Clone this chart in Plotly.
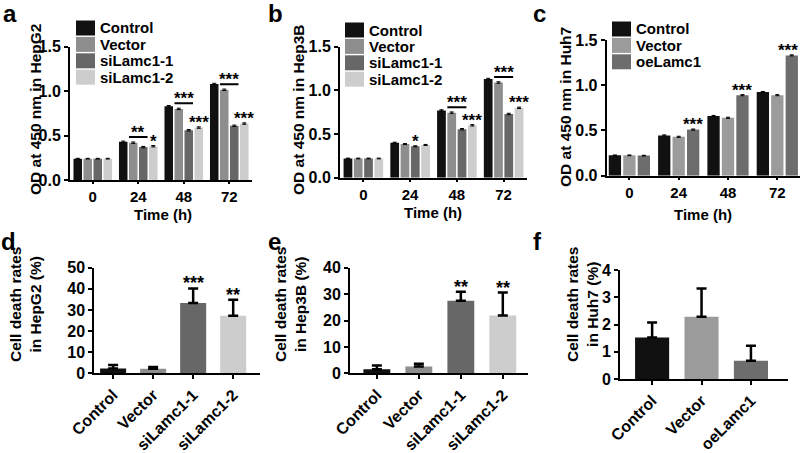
import plotly.graph_objects as go

W, H = 800, 453

time_points = ["0", "24", "48", "72"]
si_groups = ["Control", "Vector", "siLamc1-1", "siLamc1-2"]
oe_groups = ["Control", "Vector", "oeLamc1"]

si_colors = ["#111111", "#8e8e8e", "#676767", "#cdcdcd"]
oe_colors = ["#111111", "#9b9b9b", "#6d6d6d"]

# a - OD450, HepG2
hepg2_control = [0.24, 0.43, 0.83, 1.08]
hepg2_vector = [0.24, 0.42, 0.80, 1.015]
hepg2_si1 = [0.24, 0.37, 0.56, 0.61]
hepg2_si2 = [0.24, 0.38, 0.59, 0.635]
hepg2_sd = [0.004, 0.008, 0.008, 0.008]

# b - OD450, Hep3B
hep3b_control = [0.22, 0.40, 0.77, 1.13]
hep3b_vector = [0.22, 0.385, 0.745, 1.09]
hep3b_si1 = [0.22, 0.36, 0.555, 0.73]
hep3b_si2 = [0.22, 0.375, 0.60, 0.80]
hep3b_sd = [0.004, 0.006, 0.008, 0.008]

# c - OD450, Huh7
huh7_control = [0.225, 0.445, 0.66, 0.925]
huh7_vector = [0.225, 0.43, 0.64, 0.89]
huh7_oe = [0.222, 0.51, 0.89, 1.33]
huh7_sd = [0.004, 0.006, 0.006, 0.006]

# d, e, f - cell death rates (%)
hepg2_death = [2.3, 2.2, 33.3, 27.3]
hepg2_death_sd = [1.6, 0.8, 6.9, 7.5]
hep3b_death = [1.5, 2.6, 27.5, 21.9]
hep3b_death_sd = [1.5, 1.0, 3.4, 8.7]
huh7_death = [1.52, 2.28, 0.67]
huh7_death_sd = [0.55, 1.04, 0.55]

# significance marks
a_brackets = [(1, "**"), (2, "***"), (3, "***")]          # Vector vs siLamc1-1
a_stars = [(1, 3, "*"), (2, 3, "***"), (3, 3, "***")]      # (time, series, text)
b_brackets = [(2, "***"), (3, "***")]
b_stars = [(1, 2, "*"), (2, 3, "***"), (3, 3, "***")]
c_stars = [(1, 2, "***"), (2, 2, "***"), (3, 2, "***")]
d_stars = [(2, "***"), (3, "**")]
e_stars = [(2, "**"), (3, "**")]

BARGAP, GROUPGAP = 0.12, 0.15
FONT = "Liberation Sans, Arial, sans-serif"

fig = go.Figure()


def ref(i):
    return ("x", "y") if i == 1 else (f"x{i}", f"y{i}")


def slot_offsets(n):
    slot = (1 - BARGAP) / n
    return [(k - (n - 1) / 2) * slot for k in range(n)], slot * (1 - GROUPGAP)


def add_od_panel(i, series, colors, sd):
    xr, yr = ref(i)
    names = si_groups if len(series) == 4 else oe_groups
    for name, vals, col in zip(names, series, colors):
        fig.add_trace(go.Bar(
            x=time_points, y=vals, name=name, marker=dict(color=col, line_width=0),
            error_y=dict(type="data", array=sd, color="black", thickness=1, width=2),
            xaxis=xr, yaxis=yr, showlegend=False,
        ))


def add_death_panel(i, groups, vals, sd, colors, bw):
    xr, yr = ref(i)
    fig.add_trace(go.Bar(
        x=groups, y=vals, width=bw, marker=dict(color=colors[:len(groups)], line_width=0),
        error_y=dict(type="data", symmetric=False, array=sd, arrayminus=[0] * len(vals),
                     color="black", thickness=2.5, width=5),
        xaxis=xr, yaxis=yr, showlegend=False,
    ))


def star(i, x, y, text, size=17, xshift=0):
    xr, yr = ref(i)
    fig.add_annotation(xref=xr, yref=yr, x=x, y=y, text=text, showarrow=False,
                       yanchor="bottom", yshift=-7, xshift=xshift,
                       font=dict(size=size, color="black", weight="bold"))


def bracket(i, g, y, text):
    xr, yr = ref(i)
    offs, bw = slot_offsets(4)
    fig.add_shape(type="line", xref=xr, yref=yr, x0=g + offs[1] - bw / 2, x1=g + offs[2] + bw / 2,
                  y0=y, y1=y, line=dict(color="black", width=2))
    star(i, g, y, text)


def legend_box(x0, y0, names, colors):
    for k, (n, c) in enumerate(zip(names, colors)):
        yc = y0 + k * 16.4
        fig.add_shape(type="rect", xref="paper", yref="paper",
                      x0=x0 / W, x1=(x0 + 19) / W, y0=1 - (yc + 7.5) / H, y1=1 - (yc - 7.5) / H,
                      fillcolor=c, line_width=0)
        fig.add_annotation(xref="paper", yref="paper", x=(x0 + 22) / W, y=1 - yc / H, text=n,
                           xanchor="left", yanchor="middle", showarrow=False,
                           font=dict(size=15, color="black", weight="bold"))


def label(text, x, y, size, angle=0):
    fig.add_annotation(xref="paper", yref="paper", x=x / W, y=1 - y / H, text=text,
                       textangle=angle, showarrow=False, xanchor="center", yanchor="middle",
                       font=dict(size=size, color="black", weight="bold"))


# top row
a_series = [hepg2_control, hepg2_vector, hepg2_si1, hepg2_si2]
b_series = [hep3b_control, hep3b_vector, hep3b_si1, hep3b_si2]
c_series = [huh7_control, huh7_vector, huh7_oe]
add_od_panel(1, a_series, si_colors, hepg2_sd)
add_od_panel(2, b_series, si_colors, hep3b_sd)
add_od_panel(3, c_series, oe_colors, huh7_sd)

for panel, series, sd, brs, sts in [(1, a_series, hepg2_sd, a_brackets, a_stars),
                                    (2, b_series, hep3b_sd, b_brackets, b_stars),
                                    (3, c_series, huh7_sd, [], c_stars)]:
    offs, _ = slot_offsets(len(series))
    for g, text in brs:
        bracket(panel, g, series[1][g] + sd[g] + 0.055, text)
    for g, s, text in sts:
        # last mark of panel c sits against the right page edge
        shift = -4 if (panel == 3 and g == len(time_points) - 1) else 0
        star(panel, g + offs[s], series[s][g] + sd[g], text, xshift=shift)

# bottom row
add_death_panel(4, si_groups, hepg2_death, hepg2_death_sd, si_colors, 0.65)
add_death_panel(5, si_groups, hep3b_death, hep3b_death_sd, si_colors, 0.64)
add_death_panel(6, oe_groups, huh7_death, huh7_death_sd, oe_colors, 0.69)
for g, text in d_stars:
    star(4, g, hepg2_death[g] + hepg2_death_sd[g], text, 18)
for g, text in e_stars:
    star(5, g, hep3b_death[g] + hep3b_death_sd[g], text, 18)

legend_box(76, 28, si_groups, si_colors)
legend_box(345, 30, si_groups, si_colors)
legend_box(612, 29, oe_groups, oe_colors)

# panel letters
for letter, x, y in [("a", 2, 13.5), ("b", 267, 13.5), ("c", 532, 13.5),
                     ("d", 0, 241), ("e", 267, 241), ("f", 532, 241)]:
    fig.add_annotation(xref="paper", yref="paper", x=x / W, y=1 - y / H, text=letter,
                       xanchor="left", yanchor="middle", showarrow=False, borderpad=0,
                       font=dict(size=24, color="black", weight="bold"))

# axis titles
label("OD at 450 nm in HepG2", 35, 110, 15.5, -90)
label("OD at 450 nm in Hep3B", 298, 110, 15.5, -90)
label("OD at 450 nm in Huh7", 565, 107, 15.5, -90)
label("Time (h)", 163, 214, 15)
label("Time (h)", 433, 213, 15)
label("Time (h)", 703, 214, 15)
label("Cell death rates<br>in HepG2 (%)", 25, 305, 15.5, -90)
label("Cell death rates<br>in Hep3B (%)", 290, 305, 15.5, -90)
label("Cell death rates<br>in Huh7 (%)", 582, 305, 15.5, -90)

tick_font = dict(size=16, color="black", weight="bold", family=FONT)
axis_common = dict(showline=True, linecolor="black", linewidth=2, showgrid=False, zeroline=False,
                   ticks="outside", ticklen=4, tickwidth=2, tickcolor="black", tickfont=tick_font,
                   automargin=False)


def px_dom(a, b):
    return [a / W, b / W]


def py_dom(top, bottom):
    return [1 - bottom / H, 1 - top / H]


def x_axis(dom, rng, anchor, angle=0, top=False):
    d = dict(axis_common, domain=dom, range=rng, type="category", anchor=anchor, tickangle=angle)
    if top:
        d.update(ticklen=2, tickfont=dict(tick_font, size=15))
    return d


def y_axis(dom, rng, tickvals, anchor, fmt=None):
    d = dict(axis_common, domain=dom, range=rng, tickvals=tickvals, anchor=anchor)
    if fmt:
        d["tickformat"] = fmt
    return d


od_ticks = [0, 0.5, 1.0, 1.5]
fig.update_layout(
    width=W, height=H,
    margin=dict(l=0, r=0, t=0, b=0, autoexpand=False),
    paper_bgcolor="white", plot_bgcolor="white",
    font=dict(family=FONT, color="black", size=15, weight="bold"),
    barmode="group", bargap=BARGAP, bargroupgap=GROUPGAP,
    showlegend=False,
    xaxis=x_axis(px_dom(70, 252), [-0.5, 3.5], "y", top=True),
    yaxis=y_axis(py_dom(46.7, 180), [0, 1.5], od_ticks, "x", ".1f"),
    xaxis2=x_axis(px_dom(340, 527), [-0.5, 3.5], "y2", top=True),
    yaxis2=y_axis(py_dom(46.7, 177.7), [0, 1.5], od_ticks, "x2", ".1f"),
    xaxis3=x_axis(px_dom(606.7, 800), [-0.46, 3.46], "y3", top=True),
    yaxis3=y_axis(py_dom(40, 175.7), [0, 1.5], od_ticks, "x3", ".1f"),
    xaxis4=x_axis(px_dom(94.3, 260), [-0.47, 3.67], "y4", angle=-45),
    yaxis4=y_axis(py_dom(267.7, 373.3), [0, 50], [0, 10, 20, 30, 40, 50], "x4"),
    xaxis5=x_axis(px_dom(350, 528), [-0.64, 3.6], "y5", angle=-45),
    yaxis5=y_axis(py_dom(267.7, 373.3), [0, 40], [0, 10, 20, 30, 40], "x5"),
    xaxis6=x_axis(px_dom(620, 788), [-0.65, 2.75], "y6", angle=-45),
    yaxis6=y_axis(py_dom(270, 379), [0, 4], [0, 1, 2, 3, 4], "x6"),
)

# the page body has a default 8px margin; drop it so the figure sits at the window corner
fig.write_html("out.html", config={"displayModeBar": False},
               post_script="document.body.style.margin='0';")
